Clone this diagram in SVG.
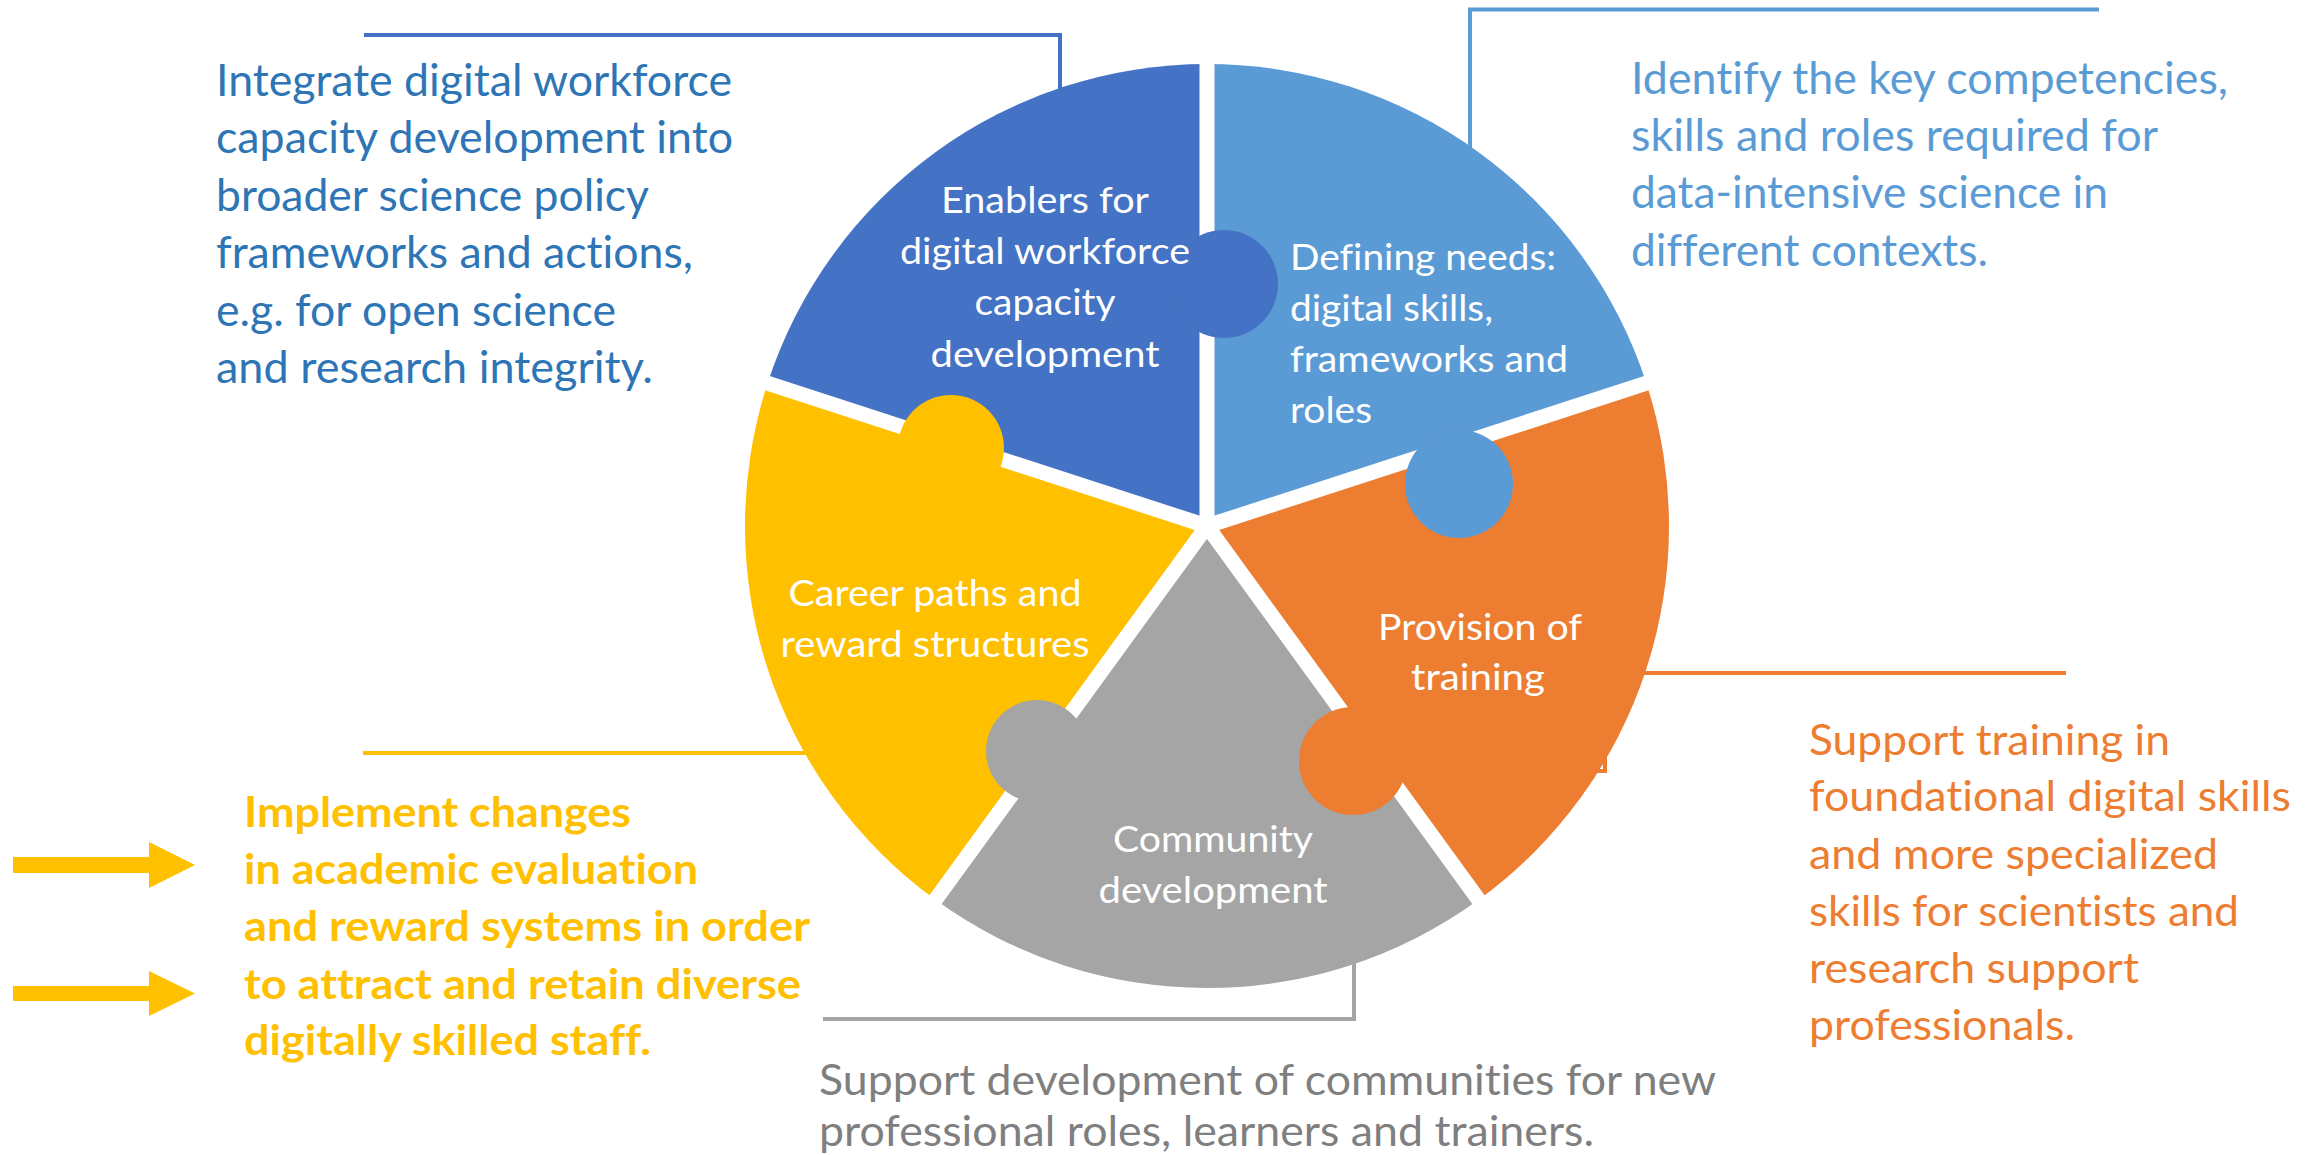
<svg xmlns="http://www.w3.org/2000/svg" width="2316" height="1155" viewBox="0 0 2316 1155">
<style>
.t{font-family:Lato,"Liberation Sans",sans-serif;font-variant-ligatures:none;font-feature-settings:"liga" 0;}
.w{fill:#fff;font-size:36px;}
.c{text-anchor:middle;}
.tl{fill:#2E75B6;font-size:45px;}
.tr{fill:#5B9BD5;font-size:44px;}
.or{fill:#ED7D31;font-size:42px;}
.ye{fill:#FFC000;font-size:42px;font-weight:bold;}
.gr{fill:#7F7F7F;font-size:42px;}
.ln{fill:none;stroke-width:4;}
.gap{stroke:#fff;stroke-width:15;stroke-linecap:butt;}
</style>
<rect width="2316" height="1155" fill="#fff"/>
<g id="connectors">
<path class="ln" stroke="#4472C4" d="M364,35 H1060 V120"/>
<path class="ln" stroke="#5B9BD5" d="M2099,9.5 H1470 V200"/>
<path class="ln" stroke="#ED7D31" d="M2066,673 H1605 V771 H1580"/>
<path class="ln" stroke="#FFC000" d="M363,753 H830"/>
<path class="ln" stroke="#A5A5A5" d="M823,1019 H1354 V940"/>
<path fill="#FFC000" d="M13,857 H149 V842 L195,865 L149,888 V873 H13 Z"/>
<path fill="#FFC000" d="M13,986 H149 V971 L195,993.5 L149,1016 V1001 H13 Z"/>
</g>
<g id="pie">
<path id="slice-defining" fill="#5B9BD5" d="M1207,526 L1207,64 A462,462 0 0 1 1646.39,383.23 Z"/>
<path id="slice-training" fill="#ED7D31" d="M1207,526 L1646.39,383.23 A462,462 0 0 1 1478.56,899.77 Z"/>
<path id="slice-community" fill="#A5A5A5" d="M1207,526 L1478.56,899.77 A462,462 0 0 1 935.44,899.77 Z"/>
<path id="slice-career" fill="#FFC000" d="M1207,526 L935.44,899.77 A462,462 0 0 1 767.61,383.23 Z"/>
<path id="slice-enablers" fill="#4472C4" d="M1207,526 L767.61,383.23 A462,462 0 0 1 1207,64 Z"/>
<g id="gaps" class="gap">
<line x1="1207" y1="526" x2="1207" y2="51"/>
<line x1="1207" y1="526" x2="1658.75" y2="379.22"/>
<line x1="1207" y1="526" x2="1486.2" y2="910.28"/>
<line x1="1207" y1="526" x2="927.8" y2="910.28"/>
<line x1="1207" y1="526" x2="755.25" y2="379.22"/>
</g>
<g id="knobs">
<circle cx="1224" cy="284" r="54" fill="#4472C4"/>
<circle cx="1459" cy="484" r="54" fill="#5B9BD5"/>
<circle cx="1353" cy="761" r="54" fill="#ED7D31"/>
<circle cx="1037" cy="751" r="51" fill="#A5A5A5"/>
<circle cx="951" cy="448" r="53" fill="#FFC000"/>
</g>
</g>
<g id="node-enablers" class="t w c">
<text x="1045" y="213" textLength="208" lengthAdjust="spacingAndGlyphs">Enablers for</text>
<text x="1045" y="264" textLength="290" lengthAdjust="spacingAndGlyphs">digital workforce</text>
<text x="1045" y="315" textLength="141" lengthAdjust="spacingAndGlyphs">capacity</text>
<text x="1045" y="367" textLength="229" lengthAdjust="spacingAndGlyphs">development</text>
</g>
<g id="node-defining" class="t w">
<text x="1290" y="270" textLength="266" lengthAdjust="spacingAndGlyphs">Defining needs:</text>
<text x="1290" y="321" textLength="203" lengthAdjust="spacingAndGlyphs">digital skills,</text>
<text x="1290" y="372" textLength="278" lengthAdjust="spacingAndGlyphs">frameworks and</text>
<text x="1290" y="423" textLength="82" lengthAdjust="spacingAndGlyphs">roles</text>
</g>
<g id="node-career" class="t w c">
<text x="935" y="606" textLength="293" lengthAdjust="spacingAndGlyphs">Career paths and</text>
<text x="935" y="657" textLength="309" lengthAdjust="spacingAndGlyphs">reward structures</text>
</g>
<g id="node-training" class="t w c">
<text x="1480" y="640" textLength="204" lengthAdjust="spacingAndGlyphs">Provision of</text>
<text x="1478" y="690" textLength="134" lengthAdjust="spacingAndGlyphs">training</text>
</g>
<g id="node-community" class="t w c">
<text x="1213" y="852" textLength="200" lengthAdjust="spacingAndGlyphs">Community</text>
<text x="1213" y="903" textLength="229" lengthAdjust="spacingAndGlyphs">development</text>
</g>
<g id="note-integrate" class="t tl">
<text x="216" y="96" textLength="516" lengthAdjust="spacingAndGlyphs">Integrate digital workforce</text>
<text x="216" y="153" textLength="517" lengthAdjust="spacingAndGlyphs">capacity development into</text>
<text x="216" y="211" textLength="433" lengthAdjust="spacingAndGlyphs">broader science policy</text>
<text x="216" y="268" textLength="477" lengthAdjust="spacingAndGlyphs">frameworks and actions,</text>
<text x="216" y="326" textLength="400" lengthAdjust="spacingAndGlyphs">e.g. for open science</text>
<text x="216" y="383" textLength="437" lengthAdjust="spacingAndGlyphs">and research integrity.</text>
</g>
<g id="note-identify" class="t tr">
<text x="1631" y="94" textLength="597" lengthAdjust="spacingAndGlyphs">Identify the key competencies,</text>
<text x="1631" y="151" textLength="527" lengthAdjust="spacingAndGlyphs">skills and roles required for</text>
<text x="1631" y="208" textLength="477" lengthAdjust="spacingAndGlyphs">data-intensive science in</text>
<text x="1631" y="266" textLength="357" lengthAdjust="spacingAndGlyphs">different contexts.</text>
</g>
<g id="note-training" class="t or">
<text x="1809" y="755" textLength="361" lengthAdjust="spacingAndGlyphs">Support training in</text>
<text x="1809" y="811" textLength="482" lengthAdjust="spacingAndGlyphs">foundational digital skills</text>
<text x="1809" y="869" textLength="409" lengthAdjust="spacingAndGlyphs">and more specialized</text>
<text x="1809" y="926" textLength="430" lengthAdjust="spacingAndGlyphs">skills for scientists and</text>
<text x="1809" y="983" textLength="330" lengthAdjust="spacingAndGlyphs">research support</text>
<text x="1809" y="1040" textLength="266" lengthAdjust="spacingAndGlyphs">professionals.</text>
</g>
<g id="note-career" class="t ye">
<text x="244" y="827" textLength="387" lengthAdjust="spacingAndGlyphs">Implement changes</text>
<text x="244" y="884" textLength="454" lengthAdjust="spacingAndGlyphs">in academic evaluation</text>
<text x="244" y="941" textLength="566" lengthAdjust="spacingAndGlyphs">and reward systems in order</text>
<text x="244" y="999" textLength="557" lengthAdjust="spacingAndGlyphs">to attract and retain diverse</text>
<text x="244" y="1055" textLength="407" lengthAdjust="spacingAndGlyphs">digitally skilled staff.</text>
</g>
<g id="note-community" class="t gr">
<text x="819" y="1095" textLength="897" lengthAdjust="spacingAndGlyphs">Support development of communities for new</text>
<text x="819" y="1146" textLength="775" lengthAdjust="spacingAndGlyphs">professional roles, learners and trainers.</text>
</g>
</svg>
